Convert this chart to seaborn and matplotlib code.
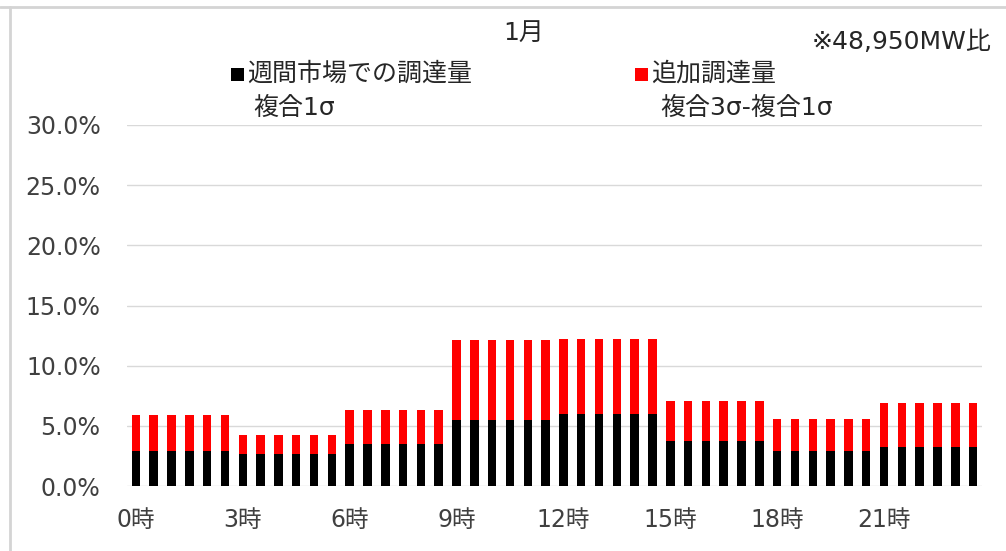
import matplotlib
matplotlib.use("Agg")
import matplotlib.pyplot as plt
from matplotlib.lines import Line2D
from matplotlib.patches import Rectangle
from matplotlib.ticker import FuncFormatter
import pandas as pd
import seaborn as sns

# Half-hourly slots, 0:00 to 23:30
slots = [f"{h}:{m:02d}" for h in range(24) for m in (0, 30)]

# Weekly-market procurement (composite 1σ), % of 48,950 MW
weekly = [
    2.9, 2.9, 2.9, 2.9, 2.9, 2.9,
    2.65, 2.65, 2.65, 2.65, 2.65, 2.65,
    3.5, 3.5, 3.5, 3.5, 3.5, 3.5,
    5.5, 5.5, 5.5, 5.5, 5.5, 5.5,
    6.0, 6.0, 6.0, 6.0, 6.0, 6.0,
    3.7, 3.7, 3.7, 3.7, 3.7, 3.7,
    2.9, 2.9, 2.9, 2.9, 2.9, 2.9,
    3.25, 3.25, 3.25, 3.25, 3.25, 3.25,
]
# Additional procurement (composite 3σ − composite 1σ), %
additional = [
    3.0, 3.0, 3.0, 3.0, 3.0, 3.0,
    1.55, 1.55, 1.55, 1.55, 1.55, 1.55,
    2.85, 2.85, 2.85, 2.85, 2.85, 2.85,
    6.6, 6.6, 6.6, 6.6, 6.6, 6.6,
    6.2, 6.2, 6.2, 6.2, 6.2, 6.2,
    3.35, 3.35, 3.35, 3.35, 3.35, 3.35,
    2.7, 2.7, 2.7, 2.7, 2.7, 2.7,
    3.65, 3.65, 3.65, 3.65, 3.65, 3.65,
]
tick_labels = ["0時", "3時", "6時", "9時", "12時", "15時", "18時", "21時"]
y_ticks = [0, 5, 10, 15, 20, 25, 30]

df = pd.DataFrame({"slot": slots, "weekly": weekly, "additional": additional})
df["total"] = df["weekly"] + df["additional"]

sns.set_theme(style="white")
fam = ["DejaVu Sans", "Noto Sans CJK JP"]
jp = ["Noto Sans CJK JP", "DejaVu Sans"]
plt.rcParams["font.family"] = fam

W, H = 1006, 551
fig = plt.figure(figsize=(W / 100, H / 100), dpi=100)
ax = fig.add_axes([127 / W, 1 - 486 / H, (982 - 127) / W, (486 - 125) / H])

RED = "#ff0000"
BLACK = "#000000"
sns.barplot(data=df, x="slot", y="total", color=RED, saturation=1,
            width=0.48, ax=ax, linewidth=0)
sns.barplot(data=df, x="slot", y="weekly", color=BLACK, saturation=1,
            width=0.48, ax=ax, linewidth=0)

ax.set_xlim(-0.5, len(slots) - 0.5)
ax.set_ylim(0, 30)
ax.set_yticks(y_ticks)
ax.yaxis.set_major_formatter(FuncFormatter(lambda v, _: f"{v:.1f}%"))
ax.set_xticks(range(0, len(slots), 6))
ax.set_xticklabels(tick_labels)
ax.set_xlabel("")
ax.set_ylabel("")
ax.tick_params(axis="both", length=0, labelsize=17, labelcolor="#404040")
ax.tick_params(axis="y", pad=19)
ax.tick_params(axis="x", pad=16)
ax.yaxis.grid(True, color="#d9d9d9", linewidth=1)
ax.set_axisbelow(True)
for s in ax.spines.values():
    s.set_visible(False)


def fx(px):
    return px / W


def fy(py):
    return 1 - py / H


# Outer chart frame (top and left edges)
fig.add_artist(Line2D([0, 1], [fy(7), fy(7)], color="#d4d4d4", lw=2))
fig.add_artist(Line2D([fx(9.5), fx(9.5)], [0, fy(7)], color="#d4d4d4", lw=2))

txt = "#262626"
fig.text(fx(524), fy(33), "1月", ha="center", va="center", fontsize=18,
         color=txt, family=fam)
fig.text(fx(992), fy(42), "※48,950MW比", ha="right", va="center", fontsize=18,
         color=txt, family=fam)

# Legend-style labels with colour keys
for x0, col in ((231, BLACK), (635, RED)):
    fig.add_artist(Rectangle((fx(x0), fy(81)), 13 / W, 13 / H,
                             transform=fig.transFigure, facecolor=col,
                             edgecolor="none"))
fig.text(fx(247), fy(74), "週間市場での調達量", ha="left", va="center",
         fontsize=18, color=txt, family=jp)
fig.text(fx(651), fy(74), "追加調達量", ha="left", va="center",
         fontsize=18, color=txt, family=jp)
fig.text(fx(253), fy(108), "複合1σ", ha="left", va="center",
         fontsize=18, color=txt, family=fam)
fig.text(fx(660), fy(108), "複合3σ-複合1σ", ha="left", va="center",
         fontsize=18, color=txt, family=fam)

fig.savefig("out.png", dpi=100, facecolor="white")
